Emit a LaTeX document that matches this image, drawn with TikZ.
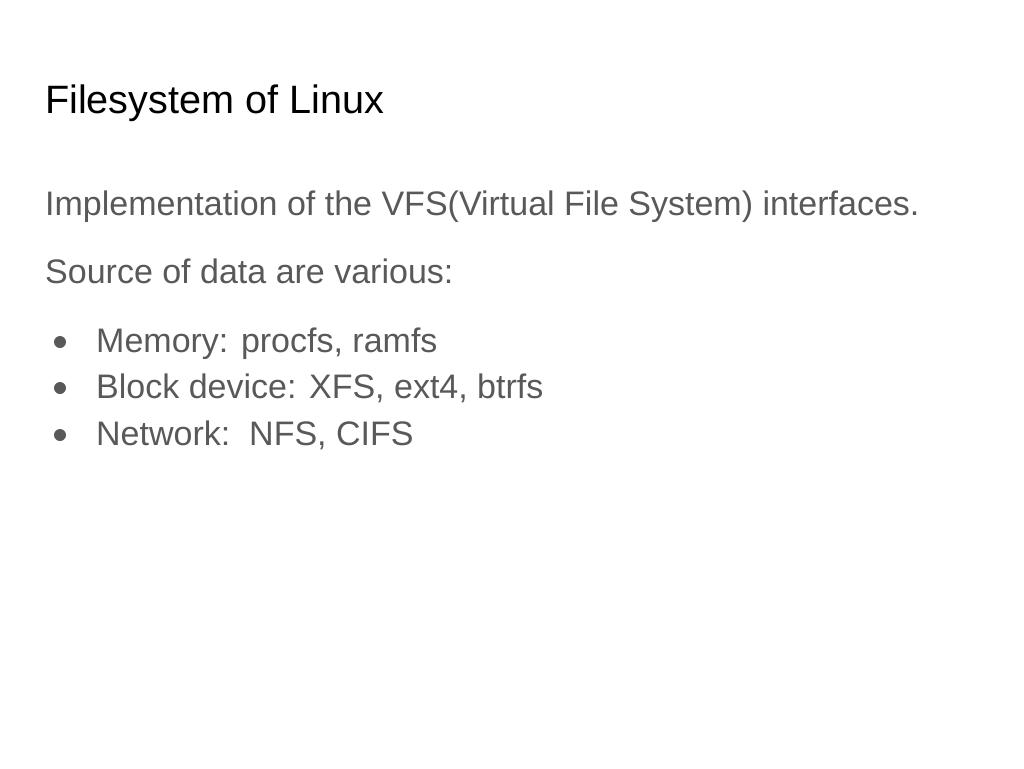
\documentclass[tikz,border=0pt]{standalone}
\usepackage{fontspec}
\setmainfont{Liberation Sans}
\definecolor{body}{HTML}{595959}
\begin{document}
\begin{tikzpicture}[x=1pt,y=-1pt,
  title/.style={anchor=base west,inner sep=0pt,font=\fontsize{39.6}{44}\selectfont,text=black},
  txt/.style={anchor=base west,inner sep=0pt,font=\fontsize{34}{40}\selectfont,text=body},
  bul/.style={circle,fill=body,inner sep=0pt,minimum size=12pt}]
\useasboundingbox (0,0) rectangle (1024,768);
\node[title] (t) at (45,113) {Filesystem of Linux};
\node[txt] (l1) at (45,215) {Implementation of the VFS(Virtual File System) interfaces.};
\node[txt] (l2) at (45,283) {Source of data are various:};
\node[bul] (b1) at (60,342) {};
\node[txt] (i1) at (96,352) {Memory: procfs, ramfs};
\node[bul] (b2) at (60,388) {};
\node[txt] (i2) at (96,398) {Block device: XFS, ext4, btrfs};
\node[bul] (b3) at (60,435) {};
\node[txt] (i3) at (96,445) {Network:\ \ NFS, CIFS};
\end{tikzpicture}
\end{document}
